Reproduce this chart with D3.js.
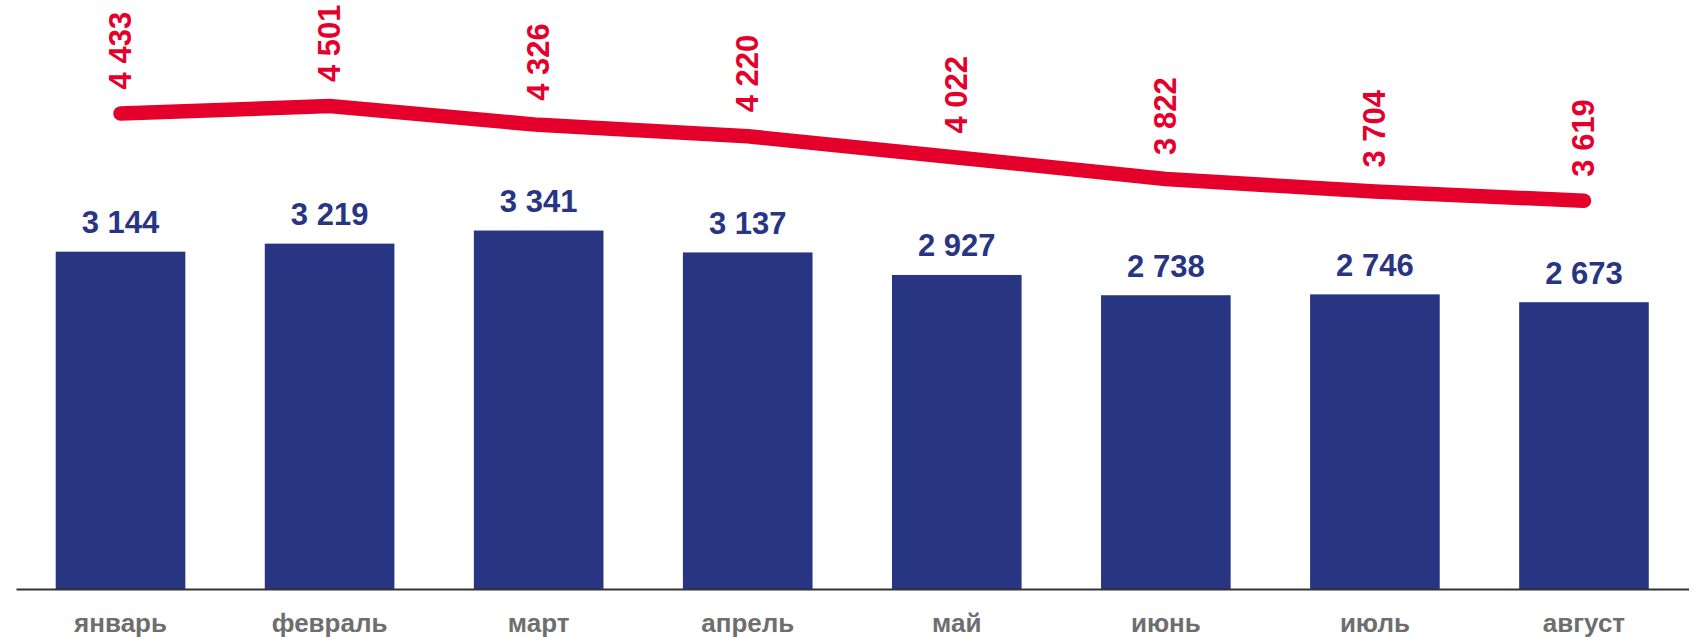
<!DOCTYPE html>
<html>
<head>
<meta charset="utf-8">
<script src="https://cdn.jsdelivr.net/npm/d3@7"></script>
<style>
  html, body { margin: 0; padding: 0; background: #fff; }
  text { font-family: "Liberation Sans", Arial, sans-serif; font-weight: bold; }
</style>
</head>
<body>
<div id="chart"></div>
<script>
// months and the two series
const months = ["январь", "февраль", "март", "апрель", "май", "июнь", "июль", "август"];
const barValues = [3144, 3219, 3341, 3137, 2927, 2738, 2746, 2673];
const lineValues = [4433, 4501, 4326, 4220, 4022, 3822, 3704, 3619];

var width = 1693, height = 637,
    baseY = 589;

var svg = d3.select("#chart")
  .append("svg")
  .attr("width", width)
  .attr("height", height);

var x = d3.scaleBand()
  .domain(months)
  .range([16, 1688.5])
  .paddingInner(0.38)
  .paddingOuter(0.19);

// same scale is used for bars and line
var y = d3.scaleLinear()
  .domain([0, 5000])
  .range([baseY, baseY - 5000 * 0.10729]);

var fmt = function(v){ return d3.format(",")(v).replace(/,/g, " "); };

// bars
svg.selectAll(".bar")
  .data(barValues)
  .enter()
  .append("rect")
  .attr("class", "bar")
  .attr("x", function(d, i){ return x(months[i]); })
  .attr("y", function(d){ return y(d); })
  .attr("width", x.bandwidth())
  .attr("height", function(d){ return baseY - y(d); })
  .attr("fill", "#283583");

// bar labels
svg.selectAll(".barLabel")
  .data(barValues)
  .enter()
  .append("text")
  .attr("class", "barLabel")
  .attr("x", function(d, i){ return x(months[i]) + x.bandwidth() / 2; })
  .attr("y", function(d){ return y(d) - 18.5; })
  .attr("text-anchor", "middle")
  .attr("font-size", "31px")
  .attr("fill", "#283583")
  .text(fmt);

// x axis
var xAxis = svg.append("g")
  .attr("transform", "translate(0," + baseY + ")")
  .call(d3.axisBottom(x).tickSize(0).tickPadding(0));
xAxis.select(".domain")
  .attr("stroke", "#333")
  .attr("stroke-width", 2);
xAxis.selectAll("text")
  .attr("dy", null)
  .attr("y", 43)
  .attr("font-size", "26px")
  .attr("font-family", "Liberation Sans, Arial, sans-serif")
  .attr("font-weight", "bold")
  .attr("fill", "#6e6e6e");

// red line
var line = d3.line()
  .x(function(d, i){ return x(months[i]) + x.bandwidth() / 2; })
  .y(function(d){ return y(d); });

svg.append("path")
  .datum(lineValues)
  .attr("d", line)
  .attr("fill", "none")
  .attr("stroke", "#e4002b")
  .attr("stroke-width", 14.5)
  .attr("stroke-linecap", "round");

// rotated line labels
svg.selectAll(".lineLabel")
  .data(lineValues)
  .enter()
  .append("text")
  .attr("class", "lineLabel")
  .attr("transform", function(d, i){
    var cx = x(months[i]) + x.bandwidth() / 2;
    return "translate(" + cx + "," + (y(d) - 24) + ") rotate(-90)";
  })
  .attr("text-anchor", "start")
  .attr("dominant-baseline", "central")
  .attr("font-size", "31px")
  .attr("fill", "#e4002b")
  .text(fmt);
</script>
</body>
</html>
